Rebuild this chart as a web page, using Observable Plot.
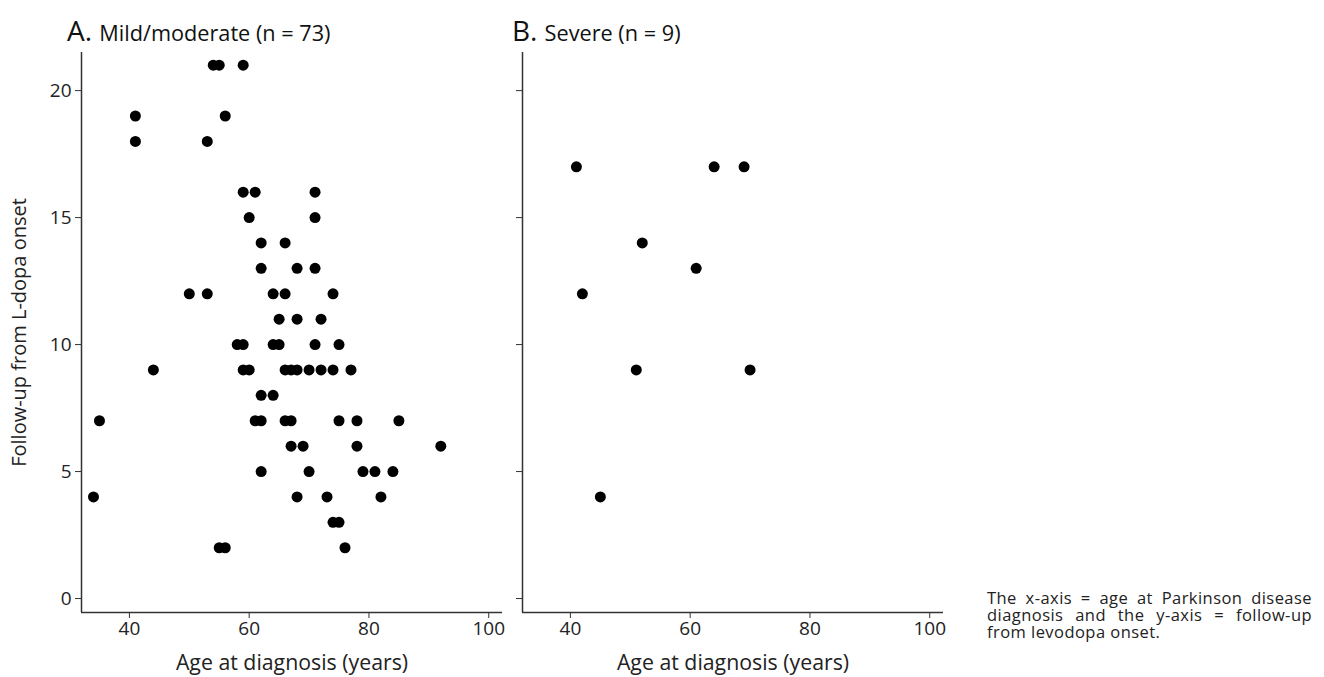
<!DOCTYPE html>
<html>
<head>
<meta charset="utf-8">
<script src="https://cdn.jsdelivr.net/npm/d3@7"></script>
<script src="https://cdn.jsdelivr.net/npm/@observablehq/plot@0.6"></script>
<style>
  body { margin: 0; background: white; font-family: "Open Sans", sans-serif; }
  #wrap { position: relative; width: 1324px; height: 677px; overflow: hidden; }
  #wrap svg { position: absolute; top: 0; }
  .title { position: absolute; color: #111; white-space: nowrap; line-height: 1; }
  .title .lt { font-size: 28px; margin-right: 3px; }
  .title .tx { font-size: 21.7px; }
  #caption { position: absolute; left: 987px; top: 589px; width: 325px; font-size: 16.5px; letter-spacing: 0.45px; line-height: 17px; text-align: justify; color: #222; }
</style>
</head>
<body>
<div id="wrap">
  <div class="title" style="left:67px; top:16px;"><span class="lt">A.</span> <span class="tx">Mild/moderate (n = 73)</span></div>
  <div class="title" style="left:512px; top:16px;"><span class="lt">B.</span> <span class="tx">Severe (n = 9)</span></div>
  <div id="caption">The x-axis = age at Parkinson disease diagnosis and the y-axis = follow-up from levodopa onset.</div>
</div>
<script>
// Panel A: mild/moderate
const ageA = [54, 55, 59, 41, 56, 41, 53, 59, 61, 71, 60, 71, 62, 66, 62, 68, 71,
  50, 53, 64, 66, 74, 65, 68, 72, 58, 59, 64, 65, 71, 75,
  44, 59, 60, 66, 67, 68, 70, 72, 74, 77, 62, 64,
  35, 61, 62, 66, 67, 75, 78, 85, 67, 69, 78, 92,
  62, 70, 79, 81, 84, 34, 68, 73, 82, 74, 75, 55, 56, 76];
const followA = [21, 21, 21, 19, 19, 18, 18, 16, 16, 16, 15, 15, 14, 14, 13, 13, 13,
  12, 12, 12, 12, 12, 11, 11, 11, 10, 10, 10, 10, 10, 10,
  9, 9, 9, 9, 9, 9, 9, 9, 9, 9, 8, 8,
  7, 7, 7, 7, 7, 7, 7, 7, 6, 6, 6, 6,
  5, 5, 5, 5, 5, 4, 4, 4, 4, 3, 3, 2, 2, 2];
// Panel B: severe
const ageB = [41, 64, 69, 52, 61, 42, 51, 70, 45];
const followB = [17, 17, 17, 14, 13, 12, 9, 9, 4];

const xTicks = [40, 60, 80, 100];
const yTicks = [0, 5, 10, 15, 20];
const xLabel = "Age at diagnosis (years)";
const yLabel = "Follow-up from L-dopa onset";

function panel({ages, follow, width, marginLeft, showYLabels}) {
  const idx = d3.range(ages.length);
  const marks = [
    Plot.axisX({ticks: xTicks, tickSize: 6, tickPadding: 3, fontSize: 19, label: null, stroke: "#333"}),
    Plot.axisY({ticks: yTicks, tickSize: 6, tickPadding: 4, fontSize: 19, label: null, stroke: "#333",
      tickFormat: showYLabels ? (d => String(d)) : (() => "")}),
    Plot.ruleX([32], {stroke: "#333", strokeWidth: 1.5}),
    Plot.ruleY([-0.55], {stroke: "#333", strokeWidth: 1.5}),
    Plot.dot(idx, {x: i => ages[i], y: i => follow[i], r: 5.5, fill: "black", stroke: "none"}),
    Plot.text([xLabel], {frameAnchor: "bottom", dy: 51, lineAnchor: "middle", textAnchor: "middle", fontSize: 21.3, text: d => d, fill: "#222"})
  ];
  if (showYLabels) {
    marks.push(Plot.text([yLabel], {frameAnchor: "left", dx: -62, rotate: -90, textAnchor: "middle", lineAnchor: "middle", fontSize: 20, text: d => d, fill: "#222"}));
  }
  return Plot.plot({
    width, height: 677,
    marginLeft, marginRight: 8, marginTop: 52, marginBottom: 65,
    style: {background: "transparent", fontFamily: "Open Sans", color: "#222", overflow: "visible"},
    x: {domain: [32, 102.3]},
    y: {domain: [-0.55, 21.5]},
    marks
  });
}

const wrap = document.getElementById("wrap");
const a = panel({ages: ageA, follow: followA, width: 510, marginLeft: 81, showYLabels: true});
a.style.left = "0px";
wrap.appendChild(a);
const b = panel({ages: ageB, follow: followB, width: 441, marginLeft: 12, showYLabels: false});
b.style.left = "510px";
wrap.appendChild(b);
</script>
</body>
</html>
